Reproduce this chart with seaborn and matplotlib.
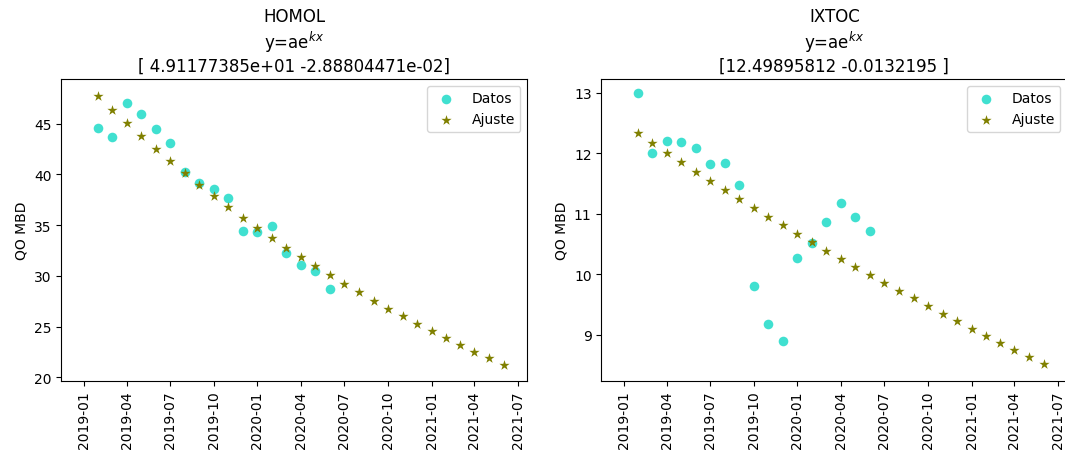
import numpy as np
import pandas as pd
import matplotlib
matplotlib.use("Agg")
import matplotlib.pyplot as plt
import matplotlib.dates as mdates
import seaborn as sns

# ---- data ----
fechas_ajuste = pd.date_range("2019-02-01", "2021-06-01", freq="MS")
fechas_datos = pd.date_range("2019-02-01", "2020-06-01", freq="MS")

homol_datos = [44.6, 43.65, 47.07, 45.99, 44.47, 43.1, 40.2, 39.2, 38.6, 37.64,
               34.45, 34.3, 34.9, 32.25, 31.07, 30.45, 28.7]
homol_ajuste = [47.72, 46.36, 45.04, 43.76, 42.51, 41.30, 40.13, 38.99, 37.88, 36.80,
                35.75, 34.73, 33.74, 32.78, 31.85, 30.94, 30.06, 29.21, 28.38, 27.57,
                26.78, 26.02, 25.28, 24.56, 23.86, 23.18, 22.52, 21.88, 21.26]

ixtoc_datos = [13.0, 12.0, 12.2, 12.18, 12.09, 11.82, 11.84, 11.47, 9.81, 9.18,
               8.90, 10.27, 10.51, 10.86, 11.18, 10.95, 10.72]
ixtoc_ajuste = [12.33, 12.17, 12.01, 11.86, 11.70, 11.55, 11.39, 11.24, 11.10, 10.95,
                10.81, 10.67, 10.53, 10.39, 10.25, 10.12, 9.98, 9.85, 9.72, 9.60,
                9.47, 9.34, 9.22, 9.10, 8.98, 8.86, 8.75, 8.63, 8.52]

titulos = ["HOMOL\ny=ae$^{kx}$\n[ 4.91177385e+01 -2.88804471e-02]",
           "IXTOC\ny=ae$^{kx}$\n[12.49895812 -0.0132195 ]"]

# ---- figure ----
fig = plt.figure(figsize=(10.65, 4.52), dpi=100)
W, H = 1065, 452
ax_w = 466 / W
ax_h = (381.7 - 80) / H
ax_b = (H - 381.7) / H
ax1 = fig.add_axes([61.3 / W, ax_b, ax_w, ax_h])
ax2 = fig.add_axes([601.3 / W, ax_b, ax_w, ax_h])

paneles = [
    (ax1, homol_datos, homol_ajuste, titulos[0], (19.67, 49.4), [20, 25, 30, 35, 40, 45]),
    (ax2, ixtoc_datos, ixtoc_ajuste, titulos[1], (8.24, 13.23), [9, 10, 11, 12, 13]),
]

for ax, datos, ajuste, titulo, ylim, yticks in paneles:
    df_d = pd.DataFrame({"fecha": fechas_datos, "qo": datos})
    df_a = pd.DataFrame({"fecha": fechas_ajuste, "qo": ajuste})
    sns.scatterplot(data=df_d, x="fecha", y="qo", ax=ax, color="turquoise",
                    s=48, linewidth=0, label="Datos")
    sns.scatterplot(data=df_a, x="fecha", y="qo", ax=ax, color="olive",
                    marker="*", s=60, linewidth=0, label="Ajuste")
    ax.set_title(titulo, fontsize=12)
    ax.set_ylabel("QO MBD", fontsize=10)
    ax.set_xlabel("")
    ax.set_ylim(*ylim)
    ax.set_yticks(yticks)
    ax.set_xlim(pd.Timestamp("2018-11-15"), pd.Timestamp("2021-07-21"))
    ax.xaxis.set_major_locator(mdates.MonthLocator(bymonth=[1, 4, 7, 10]))
    ax.xaxis.set_major_formatter(mdates.DateFormatter("%Y-%m"))
    for lab in ax.get_xticklabels():
        lab.set_rotation(90)
    ax.tick_params(labelsize=10)
    ax.legend(loc="upper right", fontsize=10)

fig.savefig("out.png", dpi=100)
